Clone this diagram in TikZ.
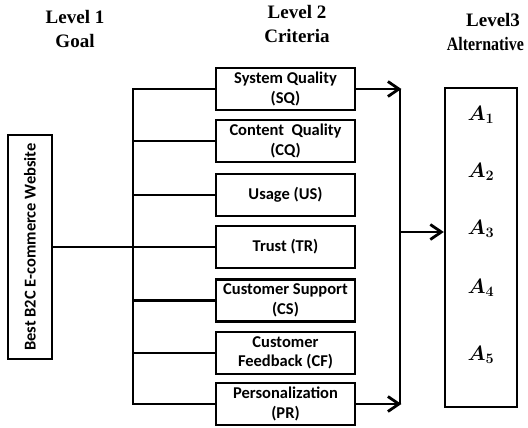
\documentclass[tikz,border=0pt]{standalone}
\usepackage{fontspec}
\usepackage{bm}
\setmainfont{Liberation Serif}
\newfontfamily\boxfont{Carlito}
\usetikzlibrary{arrows.meta}
\tikzset{
  crit/.style={draw, line width=2.4pt, minimum width=139pt, minimum height=42pt, inner sep=0pt,
    align=center, font=\boxfont\bfseries\fontsize{16.5}{19.5}\selectfont},
  title/.style={align=center, font=\bfseries\fontsize{19}{23.5}\selectfont},
  conn/.style={line width=2.8pt},
  arr/.style={line width=2.8pt, -{Straight Barb[length=11pt, width=15pt, line width=2.8pt]}},
  alt/.style={font=\fontsize{22}{24}\selectfont}
}
\begin{document}
\begin{tikzpicture}[x=1pt, y=1pt]
\useasboundingbox (0,0) rectangle (528,-428);
% titles
\node[title] (t1) at (75,-29) {Level 1\\Goal};
\node[title] (t2) at (297,-24) {Level 2\\Criteria};
\node[title, align=right, anchor=east] (t3) at (527.5,-32) {Level3\hspace*{4pt}\\\scalebox{0.84}[1]{Alternative}};
% goal
\node[draw, line width=2.4pt, minimum width=44pt, minimum height=224pt, inner sep=0pt] (goal) at (30,-247)
  {\rotatebox{90}{\boxfont\bfseries\fontsize{16.5}{19}\selectfont Best B2C E-commerce Website}};
% criteria
\node[crit] (sq) at (285.5,-89) {System Quality\\(SQ)};
\node[crit] (cq) at (285.5,-141) {Content\ \ Quality\\(CQ)};
\node[crit] (us) at (285.5,-195) {Usage (US)};
\node[crit] (tr) at (285.5,-247) {Trust (TR)};
\node[crit] (cs) at (285.5,-300.5) {Customer Support\\(CS)};
\node[crit] (cf) at (285.5,-353) {Customer\\Feedback (CF)};
\node[crit] (pr) at (285.5,-404) {Personalization\\(PR)};
% alternatives
\node[draw, line width=2.4pt, minimum width=72pt, minimum height=319pt, inner sep=0pt] (alts) at (481,-247.5) {};
\node[alt] (a1) at (481,-115) {$\bm{A_1}$};
\node[alt] (a2) at (481,-172) {$\bm{A_2}$};
\node[alt] (a3) at (481,-229) {$\bm{A_3}$};
\node[alt] (a4) at (481,-288) {$\bm{A_4}$};
\node[alt] (a5) at (481,-355) {$\bm{A_5}$};
% left trunk
\coordinate (jl) at (133,-247);
\coordinate (jr) at (400,-232);
\draw[conn] (goal.east) -- (goal.east -| jl);
\draw[conn] (sq.west) -- (sq.west -| jl) -- (pr.west -| jl) -- (pr.west);
\foreach \n in {cq,us,tr,cs,cf} \draw[conn] (\n.west) -- (\n.west -| jl);
% right trunk
\draw[conn] (sq.east -| jr) -- (pr.east -| jr);
\draw[arr] (sq.east) -- ([xshift=1.4pt]sq.east -| jr);
\draw[arr] (pr.east) -- ([xshift=1.4pt]pr.east -| jr);
\draw[arr] (jr) -- (jr -| alts.west);
\end{tikzpicture}
\end{document}
